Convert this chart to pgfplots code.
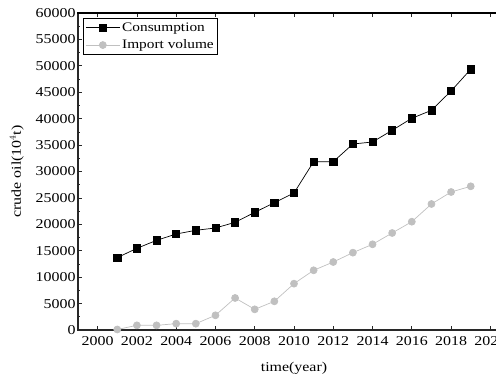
\documentclass[border=0pt]{standalone}
\usepackage{fontspec}
\setmainfont[FakeStretch=1.18]{Liberation Serif}
\usepackage{pgfplots}
\pgfplotsset{compat=1.18}
\definecolor{importgray}{RGB}{192,192,192}
\definecolor{axisgray}{RGB}{40,40,40}
\begin{document}
\begin{tikzpicture}
\begin{axis}[
  scale only axis,
  width=432pt, height=317pt,
  xmin=1999, xmax=2021,
  ymin=0, ymax=60000,
  xtick={2000,2002,...,2020},
  ytick={0,5000,...,60000},
  minor x tick num=1,
  minor y tick num=1,
  tick align=inside,
  major tick length=4pt,
  minor tick length=2.5pt,
  axis line style={axisgray, line width=1.1pt},
  every tick/.style={axisgray, line width=0.7pt},
  xticklabel style={/pgf/number format/1000 sep={}, yshift=-3pt},
  yticklabel style={/pgf/number format/1000 sep={}, xshift=1pt},
  scaled y ticks=false,
  /pgf/number format/assume math mode=true,
  tick label style={font=\fontsize{13.5}{15}\selectfont},
  label style={font=\fontsize{13.5}{15}\selectfont},
  xlabel={time(year)},
  ylabel={crude oil(10$^4$t)},
  xlabel style={yshift=-10pt},
  ylabel style={yshift=5pt},
  legend style={at={(0.012,0.983)}, anchor=north west, draw=black, line width=0.6pt,
    font=\fontsize{13}{15}\selectfont, inner sep=2pt, row sep=3pt,
    cells={anchor=west}},
  legend cell align=left,
  legend image code/.code={
    \draw[mark repeat=2, mark phase=2]
      plot coordinates {(0pt,0pt) (17pt,0pt) (34pt,0pt)};
  },
  clip=false,
]
\addplot[black, line width=0.7pt, mark=square*, mark size=3.6pt,
  mark options={fill=black, draw=black}] coordinates {
  (2001,13700) (2002,15460) (2003,16970) (2004,18170) (2005,18870)
  (2006,19310) (2007,20380) (2008,22270) (2009,24100) (2010,25930)
  (2011,31860) (2012,31860) (2013,35200) (2014,35590) (2015,37800)
  (2016,40070) (2017,41580) (2018,45240) (2019,49350)
};
\addlegendentry{Consumption}
\addplot[importgray, line width=0.7pt, mark=*, mark size=3.5pt,
  mark options={fill=importgray, draw=importgray}] coordinates {
  (2001,100) (2002,880) (2003,880) (2004,1200) (2005,1200)
  (2006,2780) (2007,6060) (2008,3910) (2009,5430) (2010,8770)
  (2011,11300) (2012,12870) (2013,14640) (2014,16220) (2015,18360)
  (2016,20500) (2017,23850) (2018,26120) (2019,27200)
};
\addlegendentry{Import volume}
\end{axis}
% heavier frame edge along the top of the plot area
\draw[black, line width=1.6pt] (-0.5pt,317pt) -- (418pt,317pt);
\pgfresetboundingbox
\path (-78pt,-50pt) rectangle (418pt,330pt);
\end{tikzpicture}
\end{document}
